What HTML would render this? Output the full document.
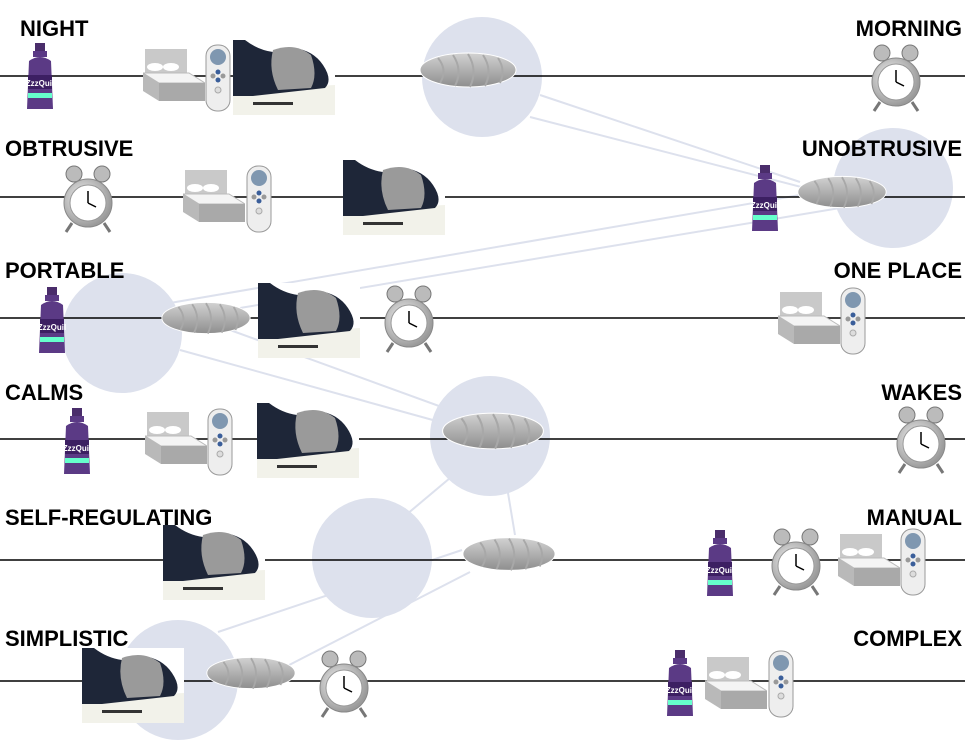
<!DOCTYPE html>
<html><head><meta charset="utf-8"><style>
html,body{margin:0;padding:0;background:#fff;}
svg{display:block}
text{font-family:"Liberation Sans",sans-serif;font-weight:bold;font-size:22px;fill:#000}
</style></head><body>
<svg width="965" height="740" viewBox="0 0 965 740" xmlns="http://www.w3.org/2000/svg">
<defs>
<linearGradient id="pg" x1="0" y1="0" x2="0" y2="1"><stop offset="0" stop-color="#d2d2d2"/><stop offset="1" stop-color="#8e8e8e"/></linearGradient>
<radialGradient id="cg" cx="0.4" cy="0.4" r="0.6"><stop offset="0" stop-color="#f4f4f4"/><stop offset="1" stop-color="#9a9a9a"/></radialGradient>
<symbol id="pillow" viewBox="0 0 100 40"><ellipse cx="50" cy="20" rx="48" ry="17" fill="url(#pg)" stroke="#fff" stroke-width="1"/><path d="M20 8 Q30 20 22 33 M35 5 Q45 20 37 36 M50 4 Q60 20 52 37 M65 5 Q75 20 67 36 M80 8 Q88 20 82 33" stroke="#a8a8a8" stroke-width="2" fill="none"/></symbol>
<symbol id="bottle" viewBox="0 0 30 68"><rect x="10" y="0" width="10" height="8" fill="#4a2d6b"/><rect x="8" y="8" width="14" height="6" fill="#5b3a85"/><path d="M4 18 Q15 10 26 18 L28 66 L2 66 Z" fill="#5b3a85"/><rect x="3" y="32" width="24" height="14" fill="#3c1f62"/><text x="15" y="43" font-size="8" style="fill:#fff;font-size:8px" text-anchor="middle">ZzzQuil</text><rect x="3" y="50" width="24" height="5" fill="#6fc"/></symbol>
<symbol id="bed" viewBox="0 0 62 58"><rect x="2" y="2" width="42" height="26" fill="#c9c9c9"/><polygon points="0,26 46,26 62,36 16,36" fill="#f4f4f4" stroke="#bbb"/><polygon points="0,26 16,36 16,54 0,44" fill="#b9b9b9"/><polygon points="16,36 62,36 62,54 16,54" fill="#a9a9a9"/><ellipse cx="12" cy="20" rx="8" ry="4" fill="#fff"/><ellipse cx="28" cy="20" rx="8" ry="4" fill="#fff"/></symbol>
<symbol id="remote" viewBox="0 0 26 68"><rect x="1" y="1" width="24" height="66" rx="11" fill="#eee" stroke="#999"/><circle cx="13" cy="13" r="8" fill="#7f97b0"/><circle cx="13" cy="28" r="2.5" fill="#3a5e9a"/><circle cx="8" cy="32" r="2.5" fill="#999"/><circle cx="18" cy="32" r="2.5" fill="#999"/><circle cx="13" cy="36" r="2.5" fill="#3a5e9a"/><circle cx="13" cy="46" r="3" fill="#ddd" stroke="#aaa"/></symbol>
<symbol id="person" viewBox="0 0 102 75"><rect width="102" height="75" fill="#fff"/><polygon points="0,50 102,45 102,75 0,75" fill="#f2f2ea"/><path d="M0 0 L12 0 Q25 10 40 12 L60 8 Q80 10 90 25 Q100 40 92 48 L20 56 L0 56 Z" fill="#1e2638"/><path d="M40 10 Q62 2 78 15 Q85 35 78 48 L45 50 Q35 30 40 10Z" fill="#9a9a9a"/><rect x="20" y="62" width="40" height="3" fill="#333"/></symbol>
<symbol id="clock" viewBox="0 0 52 68"><circle cx="12" cy="9" r="8" fill="#bbb" stroke="#777"/><circle cx="40" cy="9" r="8" fill="#bbb" stroke="#777"/><line x1="10" y1="58" x2="4" y2="67" stroke="#777" stroke-width="3"/><line x1="42" y1="58" x2="48" y2="67" stroke="#777" stroke-width="3"/><circle cx="26" cy="38" r="24" fill="url(#cg)" stroke="#888"/><circle cx="26" cy="38" r="18" fill="#fff" stroke="#999"/><line x1="26" y1="38" x2="26" y2="26" stroke="#000" stroke-width="1.5"/><line x1="26" y1="38" x2="34" y2="42" stroke="#000" stroke-width="1.5"/></symbol>
</defs>
<g fill="#dde1ed">
<circle cx="482" cy="77" r="60"/><circle cx="893" cy="188" r="60"/><circle cx="122" cy="333" r="60"/><circle cx="490" cy="436" r="60"/><circle cx="372" cy="558" r="60"/><circle cx="178" cy="680" r="60"/>
</g>
<g stroke="#dde1ed" stroke-width="2" fill="none">
<line x1="540" y1="95" x2="800" y2="182"/><line x1="530" y1="117" x2="840" y2="197"/>
<line x1="800" y1="195" x2="170" y2="303"/><line x1="840" y1="208" x2="240" y2="308"/>
<line x1="180" y1="350" x2="440" y2="422"/><line x1="230" y1="330" x2="450" y2="410"/>
<line x1="450" y1="478" x2="400" y2="520"/><line x1="505" y1="475" x2="515" y2="535"/>
<line x1="470" y1="572" x2="260" y2="680"/><line x1="462" y1="550" x2="218" y2="632"/>
</g>
<g stroke="#000" stroke-width="1.5">
<line x1="0" y1="76" x2="965" y2="76"/><line x1="0" y1="197" x2="965" y2="197"/><line x1="0" y1="318" x2="965" y2="318"/><line x1="0" y1="439" x2="965" y2="439"/><line x1="0" y1="560" x2="965" y2="560"/><line x1="0" y1="681" x2="965" y2="681"/>
</g>
<text x="20" y="36">NIGHT</text><text x="962" y="36" text-anchor="end">MORNING</text>
<text x="5" y="156">OBTRUSIVE</text><text x="962" y="156" text-anchor="end">UNOBTRUSIVE</text>
<text x="5" y="278">PORTABLE</text><text x="962" y="278" text-anchor="end">ONE PLACE</text>
<text x="5" y="400">CALMS</text><text x="962" y="400" text-anchor="end">WAKES</text>
<text x="5" y="525">SELF-REGULATING</text><text x="962" y="525" text-anchor="end">MANUAL</text>
<text x="5" y="646">SIMPLISTIC</text><text x="962" y="646" text-anchor="end">COMPLEX</text>
<!-- row1 -->
<use href="#bottle" x="25" y="43" width="30" height="68"/><use href="#bed" x="143" y="47" width="62" height="58"/><use href="#remote" x="205" y="44" width="26" height="68"/><use href="#person" x="233" y="40" width="102" height="75"/><use href="#pillow" x="418" y="50" width="100" height="40"/><use href="#clock" x="870" y="44" width="52" height="68"/>
<!-- row2 -->
<use href="#clock" x="62" y="165" width="52" height="68"/><use href="#bed" x="183" y="168" width="62" height="58"/><use href="#remote" x="246" y="165" width="26" height="68"/><use href="#person" x="343" y="160" width="102" height="75"/><use href="#bottle" x="750" y="165" width="30" height="68"/><use href="#pillow" x="796" y="172" width="92" height="40"/>
<!-- row3 -->
<use href="#bottle" x="37" y="287" width="30" height="68"/><use href="#pillow" x="160" y="298" width="92" height="40"/><use href="#person" x="258" y="283" width="102" height="75"/><use href="#clock" x="383" y="285" width="52" height="68"/><use href="#bed" x="778" y="290" width="62" height="58"/><use href="#remote" x="840" y="287" width="26" height="68"/>
<!-- row4 -->
<use href="#bottle" x="62" y="408" width="30" height="68"/><use href="#bed" x="145" y="410" width="62" height="58"/><use href="#remote" x="207" y="408" width="26" height="68"/><use href="#person" x="257" y="403" width="102" height="75"/><use href="#pillow" x="440" y="410" width="106" height="42"/><use href="#clock" x="895" y="406" width="52" height="68"/>
<!-- row5 -->
<use href="#person" x="163" y="525" width="102" height="75"/><use href="#pillow" x="461" y="533" width="96" height="42"/><use href="#bottle" x="705" y="530" width="30" height="68"/><use href="#clock" x="770" y="528" width="52" height="68"/><use href="#bed" x="838" y="532" width="62" height="58"/><use href="#remote" x="900" y="528" width="26" height="68"/>
<!-- row6 -->
<use href="#person" x="82" y="648" width="102" height="75"/><use href="#pillow" x="205" y="653" width="92" height="40"/><use href="#clock" x="318" y="650" width="52" height="68"/><use href="#bottle" x="665" y="650" width="30" height="68"/><use href="#bed" x="705" y="655" width="62" height="58"/><use href="#remote" x="768" y="650" width="26" height="68"/>
</svg>
</body></html>
